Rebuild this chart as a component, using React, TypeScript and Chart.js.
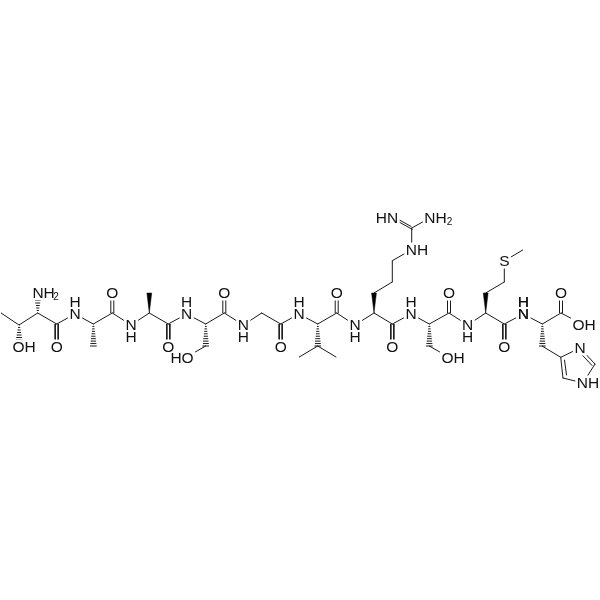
import React, { useEffect, useRef } from "react";
import { Chart, registerables } from "chart.js";

Chart.register(...registerables);

type Seg = [number, number, number, number];

// Single bonds [x1, y1, x2, y2]
const singleBonds: Seg[] = [
  [1, 313, 19, 325], [19, 325, 37.7, 313], [37.7, 313, 56.7, 324], [56.7, 324, 75, 314],
  [75, 314, 93.3, 324], [93.3, 324, 112.3, 313], [112.3, 313, 131, 325], [131, 325, 149.3, 313],
  [149.3, 313, 168.3, 324], [168.3, 324, 186.7, 314], [186.7, 314, 205.7, 324], [205.7, 324, 224.3, 313],
  [224.3, 313, 243.3, 325], [243.3, 325, 261.7, 313], [261.7, 313, 280.7, 324], [280.7, 324, 299, 314],
  [299, 314, 317.7, 324], [317.7, 324, 336.7, 313], [336.7, 313, 355, 325], [355, 325, 374, 313],
  [374, 313, 392.3, 324], [392.3, 324, 411, 314], [411, 314, 429.3, 324], [429.3, 324, 449, 313],
  [449, 313, 467.7, 325], [467.7, 325, 485.7, 313], [485.7, 313, 504.3, 324], [504.3, 324, 523.3, 314],
  [523.3, 314, 542.3, 324], [542.3, 324, 561, 313], [561, 313, 584, 325],
  [205.7, 346, 190, 355], [429.3, 346, 445, 355],
  [317.7, 346, 299.3, 357], [317.7, 346, 336, 357],
  [374, 293, 392.3, 282], [392.3, 282, 392.3, 260.7], [392.3, 260.7, 411, 250], [411.7, 250, 411.7, 228], [411.7, 228, 430, 218],
  [485.7, 293, 504.3, 282], [504.3, 282, 504.3, 261], [504.3, 261, 522.7, 250],
  [542, 346, 560.7, 357.3], [580, 348, 595, 364], [595, 364, 583, 383], [583, 383, 563, 378], [560.7, 357.3, 580, 348],
  [560.7, 357.3, 563, 378],
];

// Stroke pairs of double bonds, drawn as parallel lines
const doubleBonds: Seg[] = [
  [55.2, 324, 55.2, 347], [58.2, 324, 58.2, 347],
  [110.8, 313, 110.8, 293], [113.8, 313, 113.8, 293],
  [166.8, 324, 166.8, 347], [169.8, 324, 169.8, 347],
  [222.8, 313, 222.8, 293], [225.8, 313, 225.8, 293],
  [279.2, 324, 279.2, 347], [282.2, 324, 282.2, 347],
  [335.2, 313, 335.2, 293], [338.2, 313, 338.2, 293],
  [390.8, 324, 390.8, 347], [393.8, 324, 393.8, 347],
  [447.5, 313, 447.5, 293], [450.5, 313, 450.5, 293],
  [502.8, 324, 502.8, 347], [505.8, 324, 505.8, 347],
  [559.5, 313, 559.5, 293], [562.5, 313, 562.5, 293],
  [411, 226.4, 393, 216.4], [412.4, 229.4, 394.4, 219.4],
  [578, 350.5, 592, 365.5],
  [564.5, 360, 566.5, 375],
];

// Solid wedges [narrow x, narrow y, wide x, wide y]
const wedgeBonds: Seg[] = [
  [149.3, 313, 149.3, 293],
  [374, 313, 374, 293],
  [485.7, 313, 485.7, 293],
];

// Hashed wedges [narrow x, narrow y, wide x, wide y]
const hashBonds: Seg[] = [
  [37.7, 313, 37.7, 298],
  [19, 325, 19, 340],
  [93.3, 324, 93.3, 346],
  [205.7, 324, 205.7, 346],
  [317.7, 324, 317.7, 346],
  [429.3, 324, 429.3, 346],
  [542.3, 324, 542.3, 346],
];

const labelTexts = [
  "NH", "2", "OH", "O", "N", "H", "O", "N", "H",
  "O", "N", "H", "HO", "O", "N", "H", "O",
  "N", "H", "O", "N", "H", "O",
  "N", "H", "HN", "NH", "2", "NH", "N", "H", "OH",
  "O", "N", "H", "S", "O", "N", "H", "O", "OH", "N", "NH",
];
const labelXs = [
  43.6, 56, 24, 56.7, 75, 75, 112.3, 131, 131,
  168.3, 186.7, 186.7, 182, 224.3, 243.3, 243.3, 280.7,
  299, 299, 336.7, 355, 355, 392.3,
  411, 411, 387, 435.5, 449.5, 417, 467.7, 467.7, 453,
  449, 523.3, 523.3, 504.3, 504.3, 523.3, 523.3, 561, 584, 580, 588,
];
const labelYs = [
  293, 297, 347, 347, 314, 302, 293, 325, 337,
  347, 314, 302, 358, 293, 325, 337, 347,
  314, 302, 293, 325, 337, 347,
  314, 302, 218, 218, 222, 250, 325, 337, 358,
  293, 314, 302, 261, 347, 314, 302, 293, 325, 348, 383,
];

const INK = "#1a1a1a";
const toPoints = (segs: Seg[]) =>
  segs.flatMap(([a, b, c, d]) => [{ x: a, y: b }, { x: c, y: d }, { x: a, y: null as any }]);

const hashPoints = (segs: Seg[]) =>
  segs.flatMap(([a, b, c, d]) => {
    const out: any[] = [];
    const len = Math.hypot(c - a, d - b);
    const n = Math.round(len / 2.4);
    for (let i = 1; i <= n; i++) {
      const t = i / n;
      const w = 0.4 + t * 2.6;
      const x = a + (c - a) * t;
      const y = b + (d - b) * t;
      out.push({ x: x - w, y }, { x: x + w, y }, { x, y: null });
    }
    return out;
  });

const labelPlugin = {
  id: "atomLabels",
  afterDatasetsDraw(chart: any) {
    const { ctx, scales } = chart;
    ctx.save();
    ctx.textAlign = "center";
    ctx.textBaseline = "middle";
    labelTexts.forEach((t, i) => {
      const sub = t === "2";
      ctx.font = `${sub ? 10 : 15.5}px "Liberation Sans"`;
      const px = scales.x.getPixelForValue(labelXs[i]);
      const py = scales.y.getPixelForValue(labelYs[i]);
      if (!sub) {
        const w = ctx.measureText(t).width + 3;
        ctx.fillStyle = "#fff";
        ctx.fillRect(px - w / 2, py - 7.5, w, 15);
      }
    });
    labelTexts.forEach((t, i) => {
      const sub = t === "2";
      ctx.font = `${sub ? 10 : 15.5}px "Liberation Sans"`;
      ctx.fillStyle = "#111";
      ctx.fillText(t, scales.x.getPixelForValue(labelXs[i]), scales.y.getPixelForValue(labelYs[i]) + 0.5);
    });
    ctx.restore();
  },
};

export default function App() {
  const ref = useRef<HTMLCanvasElement>(null);
  useEffect(() => {
    const lineStyle = { showLine: true, spanGaps: false, pointRadius: 0, borderColor: INK, borderWidth: 1, borderCapStyle: "round" };
    const chart = new Chart(ref.current!, {
      type: "scatter",
      data: {
        datasets: [
          { label: "single", data: toPoints(singleBonds), ...lineStyle },
          { label: "double", data: toPoints(doubleBonds), ...lineStyle },
          { label: "hash", data: hashPoints(hashBonds), ...lineStyle },
          ...wedgeBonds.map(([a, b, c, d]) => ({
            label: "wedge",
            data: [{ x: a, y: b }, { x: c - 2.4, y: d }, { x: c + 2.4, y: d }, { x: a, y: b }],
            showLine: true,
            pointRadius: 0,
            borderColor: "#000",
            borderWidth: 0.5,
            backgroundColor: "#000",
            fill: "shape",
          })),
        ] as any,
      },
      options: {
        animation: false,
        responsive: false,
        devicePixelRatio: 1,
        layout: { padding: 0 },
        plugins: { legend: { display: false }, tooltip: { enabled: false } },
        scales: {
          x: { type: "linear", min: 0, max: 600, display: false },
          y: { type: "linear", min: 0, max: 600, reverse: true, display: false },
        },
      } as any,
      plugins: [labelPlugin],
    });
    return () => chart.destroy();
  }, []);
  return (
    <div style={{ position: "absolute", left: 0, top: 0, width: 600, height: 600, background: "#fff" }}>
      <canvas ref={ref} width={600} height={600} style={{ display: "block" }} />
    </div>
  );
}
